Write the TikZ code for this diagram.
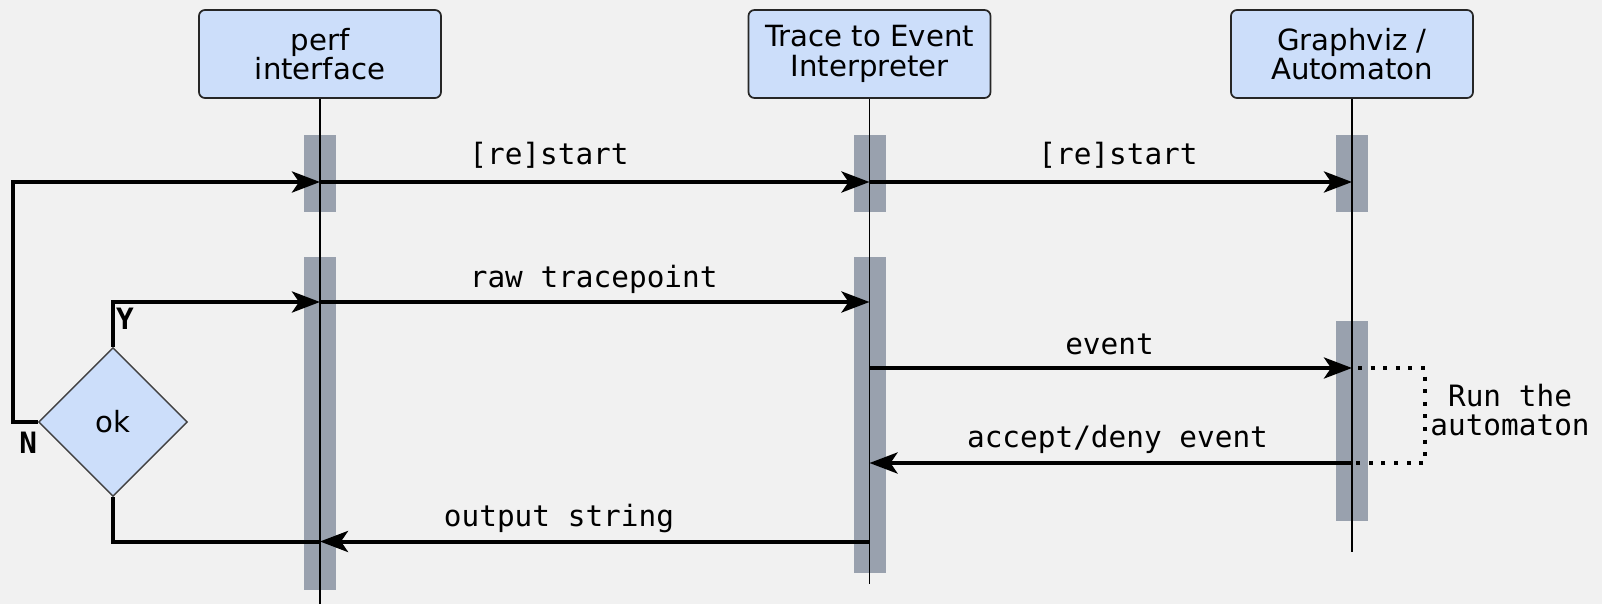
\documentclass[tikz,border=0pt]{standalone}
\usepackage{fontspec}
\setmainfont{DejaVu Sans}
\setmonofont{DejaVu Sans Mono}
\usetikzlibrary{arrows.meta,shapes.geometric}
\definecolor{bgc}{RGB}{241,241,241}
\definecolor{boxfill}{RGB}{204,222,250}
\definecolor{barc}{RGB}{153,161,174}
\begin{document}
\begin{tikzpicture}[x=0.5pt,y=-0.5pt,
  actor/.style={draw=black!85, line width=0.85pt, fill=boxfill, rounded corners=3pt,
    minimum width=121pt, minimum height=44pt, align=center, inner sep=0pt,
    font=\fontsize{14.6}{14.8}\selectfont},
  msg/.style={line width=2pt, -{Stealth[length=14pt,width=10.5pt,inset=3.5pt]}},
  flow/.style={line width=2pt},
  lbl/.style={font=\ttfamily\fontsize{14.7}{14.7}\selectfont, anchor=base, inner sep=0pt},
  yn/.style={font=\ttfamily\bfseries\fontsize{14.7}{14.7}\selectfont, anchor=base, inner sep=0pt},
  lifeline/.style={line width=0.9pt},
  activ/.style={fill=barc},
  dots/.style={line width=2pt, dash pattern=on 2pt off 4.3pt, dash phase=3.3pt},
]
\fill[bgc] (0,0) rectangle (1602,604);
\useasboundingbox (0,0) rectangle (1602,604);

% activation bars
\fill[activ] (304,135) rectangle (336,212);
\fill[activ] (304,257) rectangle (336,590);
\fill[activ] (854,135) rectangle (886,212);
\fill[activ] (854,257) rectangle (886,573);
\fill[activ] (1336,135) rectangle (1368,212);
\fill[activ] (1336,321) rectangle (1368,521);

% actors
\node[actor] (perf) at (320,54) {perf\\interface};
\node[actor] (tei) at (869.5,54) {Trace to Event\\Interpreter};
\node[actor] (gv) at (1352,54) {Graphviz /\\Automaton};

% lifelines
\coordinate (perfend) at (320,604);
\coordinate (teiend) at (869.5,584);
\coordinate (gvend) at (1352,552);
\draw[lifeline] (perf.south) -- (perfend);
\draw[lifeline] (tei.south) -- (teiend);
\draw[lifeline] (gv.south) -- (gvend);

% message points
\coordinate (p1) at (320,182);
\coordinate (t1) at (869.5,182);
\coordinate (g1) at (1352,182);
\coordinate (p2) at (320,302);
\coordinate (t2) at (869.5,302);
\coordinate (t3) at (869.5,368);
\coordinate (g3) at (1352,368);
\coordinate (t4) at (869.5,463);
\coordinate (g4) at (1352,463);
\coordinate (t5) at (869.5,541.5);
\coordinate (p5) at (320,541.5);
\coordinate (nl) at (13,422);
\coordinate (d1) at (1425,368);
\coordinate (d2) at (1425,463);

% decision
\node[diamond, aspect=1, draw=black!75, line width=0.7pt, fill=boxfill,
  minimum width=74.5pt, minimum height=74.5pt, inner sep=0pt,
  font=\fontsize{14.6}{14.8}\selectfont] (ok) at (113,422) {ok};

% messages
\draw[msg] (ok.west) -- (nl) |- (p1);
\draw[msg] (ok.north) |- (p2);
\draw[msg] (p1) -- (t1);
\draw[msg] (t1) -- (g1);
\draw[msg] (p2) -- (t2);
\draw[msg] (t3) -- (g3);
\draw[msg] (g4) -- (t4);
\draw[msg] (t5) -- (p5);
\draw[flow] (p5) -| (ok.south);
\draw[dots] (g3) -- (d1) -- (d2) -- (g4);

% labels
\node[lbl] (l1) at (549,164.3) {[re]start};
\node[lbl] (l2) at (1118,164.3) {[re]start};
\node[lbl] (l3) at (593.7,287.7) {raw tracepoint};
\node[lbl] (l4) at (1109.5,355) {event};
\node[lbl] (l5) at (1117.5,447.3) {accept/deny event};
\node[lbl] (l6) at (559,526.7) {output string};
\node[font=\ttfamily\fontsize{14.7}{14.15}\selectfont, align=center, inner sep=0pt] (run) at (1510,410) {Run the\\automaton};
\node[yn] (Y) at (125,330) {Y};
\node[yn] (N) at (28.3,453) {N};
\end{tikzpicture}
\end{document}
